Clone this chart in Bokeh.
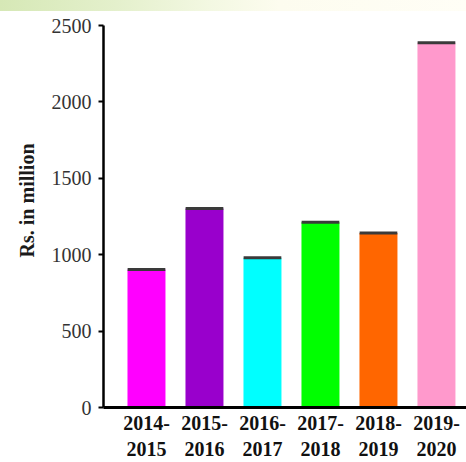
from bokeh.plotting import figure
from bokeh.models import FixedTicker, ColumnDataSource, Range1d, Title, Div
from bokeh.layouts import column
from bokeh.embed import file_html
from bokeh.resources import INLINE

years = ["2014-\n2015", "2015-\n2016", "2016-\n2017", "2017-\n2018", "2018-\n2019", "2019-\n2020"]
values = [903, 1303, 980, 1213, 1142, 2387]
colors = ["#FF00FF", "#9900CC", "#00FFFF", "#00FF00", "#FF6600", "#FF99CC"]
y_ticks = [0, 500, 1000, 1500, 2000, 2500]

idx = list(range(len(years)))
src = ColumnDataSource(dict(x=idx, top=values, color=colors,
                            x0=[i - 0.325 for i in idx], x1=[i + 0.325 for i in idx]))

band = Div(text="", width=466, height=11, margin=(0, 0, 0, 0),
           styles={"background": "linear-gradient(to right, #d6e8b6 0%, #e4f0cc 25%, #f3f8e2 45%, #fdfcef 60%, #fffef6 100%)"})

p = figure(width=466, height=451, output_backend="svg", toolbar_location=None,
           x_range=Range1d(-0.741, 5.518), y_range=Range1d(0, 2500),
           min_border_left=103, min_border_right=0, min_border_top=14, min_border_bottom=50)
p.outline_line_color = None
p.xgrid.visible = False
p.ygrid.visible = False

p.vbar(x="x", top="top", width=0.655, color="color", source=src, line_color=None)
p.segment(x0="x0", x1="x1", y0="top", y1="top", source=src, line_color="#3a3a3a", line_width=3)

font = "Liberation Serif"
ttl = Title(text="Rs. in million", align="right", offset=118, standoff=22,
            text_font=font, text_font_style="bold", text_font_size="20px",
            text_color="#1a1a1a")
p.add_layout(ttl, "left")

ya = p.yaxis[0]
ya.ticker = FixedTicker(ticks=y_ticks)
ya.major_label_text_font = font
ya.major_label_text_font_size = "20px"
ya.major_label_text_color = "#333333"
ya.major_tick_in = 0
ya.major_tick_out = 5
ya.minor_tick_in = 0
ya.minor_tick_out = 0
ya.axis_line_width = 2.5
ya.major_tick_line_width = 2
ya.major_label_standoff = 7

xa = p.xaxis[0]
xa.ticker = FixedTicker(ticks=idx)
xa.major_label_overrides = {i: years[i] for i in idx}
xa.major_label_text_font = font
xa.major_label_text_font_style = "bold"
xa.major_label_text_font_size = "20px"
xa.major_label_text_color = "#111111"
xa.major_tick_in = 0
xa.major_tick_out = 0
xa.minor_tick_in = 0
xa.minor_tick_out = 0
xa.axis_line_width = 3
xa.major_label_standoff = 4

layout = column(band, p, spacing=0)
open("out.html", "w").write(file_html(layout, INLINE))
